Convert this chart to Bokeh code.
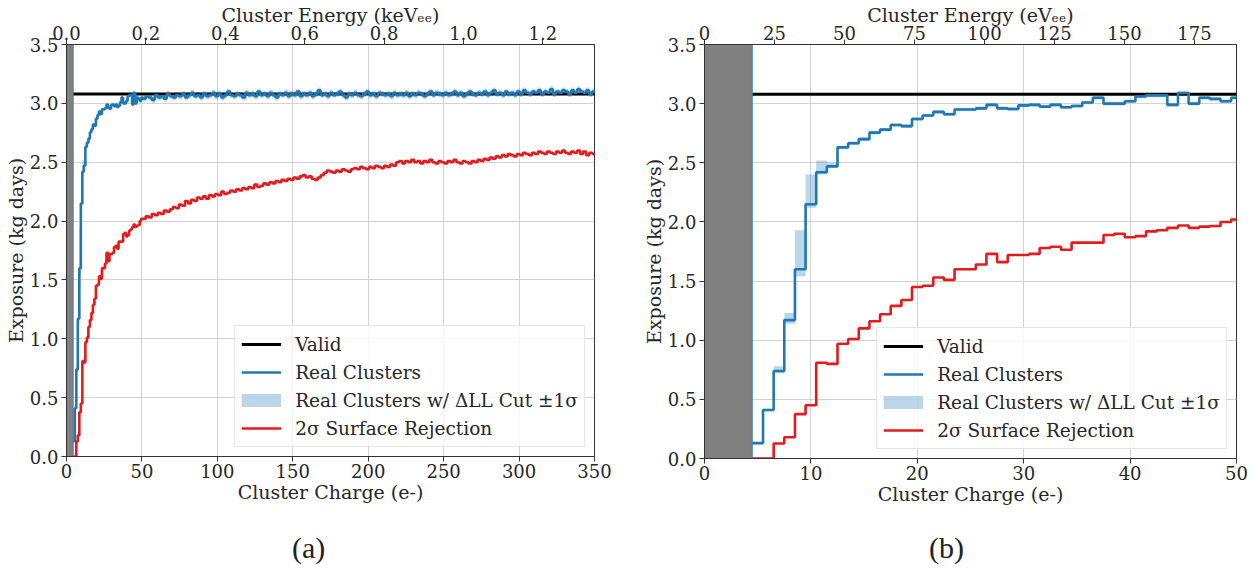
import numpy as np
from bokeh.plotting import figure
from bokeh.models import (Range1d, LinearAxis, FixedTicker, PrintfTickFormatter,
                          Legend, LegendItem, Span, Div)
from bokeh.layouts import row, column
from bokeh.embed import file_html
from bokeh.resources import INLINE

# ---------------- data ----------------
threshold_e = 4.5          # analysis threshold (e-)
ev_per_e = 3.8             # eV per electron
valid_exposure = 3.08      # kg days
fine_start, fine_stop, fine_width = 4.5, 50.5, 1.0
coarse_stop, coarse_width = 350.5, 2.0

# 1 e- bins, 4.5 .. 50.5
blue_fine = [0.13, 0.41, 0.74, 1.17, 1.60, 2.15, 2.42, 2.47, 2.63, 2.665,
             2.70, 2.755, 2.78, 2.82, 2.81, 2.87, 2.90, 2.93, 2.91, 2.95,
             2.95, 2.96, 2.99, 2.96, 2.955, 2.985, 2.99, 2.975, 2.99, 2.97,
             2.98, 3.01, 3.05, 3.00, 3.00, 3.02, 3.06, 3.07, 3.07, 2.99,
             3.09, 3.00, 3.05, 3.04, 3.02, 3.05]
red_fine = [0.0, 0.0, 0.127, 0.18, 0.375, 0.45, 0.81, 0.80, 0.97, 1.01,
            1.10, 1.16, 1.22, 1.29, 1.34, 1.45, 1.46, 1.53, 1.51, 1.60,
            1.60, 1.64, 1.73, 1.66, 1.72, 1.72, 1.73, 1.78, 1.79, 1.765,
            1.825, 1.825, 1.825, 1.89, 1.90, 1.87, 1.88, 1.92, 1.93, 1.95,
            1.97, 1.95, 1.96, 1.966, 2.00, 2.02]
band_lo_fine = [0.12, 0.40, 0.72, 1.14, 1.54, 2.12, 2.40, 2.46, 2.615, 2.65,
                2.685, 2.74, 2.765, 2.805, 2.795, 2.855, 2.885, 2.915, 2.895, 2.935,
                2.935, 2.945, 2.975, 2.945, 2.94, 2.97, 2.975, 2.96, 2.975, 2.955,
                2.965, 2.995, 3.035, 2.985, 2.985, 3.005, 3.045, 3.055, 3.055, 2.975,
                3.075, 2.985, 3.035, 3.025, 3.005, 3.035]
band_hi_fine = [0.14, 0.42, 0.78, 1.23, 1.93, 2.40, 2.52, 2.50, 2.645, 2.68,
                2.715, 2.77, 2.795, 2.835, 2.825, 2.885, 2.915, 2.945, 2.925, 2.965,
                2.965, 2.975, 3.005, 2.975, 2.97, 3.00, 3.005, 2.99, 3.005, 2.985,
                2.995, 3.025, 3.065, 3.015, 3.015, 3.035, 3.075, 3.085, 3.085, 3.005,
                3.105, 3.015, 3.065, 3.055, 3.035, 3.065]

# 2 e- bins, 50.5 .. 350.5
blue_coarse = [3.04, 3.06, 3.05, 3.03, 3.07, 3.05, 3.06, 3.04, 3.08, 3.06,
               3.05, 3.07, 3.06, 3.08, 3.05, 3.07, 3.09, 3.06, 3.07, 3.05,
               3.08, 3.06, 3.07, 3.09, 3.06, 3.08, 3.05, 3.07, 3.10, 3.07,
               3.06, 3.08, 3.07, 3.05, 3.09, 3.07, 3.08, 3.06, 3.10, 3.07,
               3.08, 3.06, 3.09, 3.07, 3.05, 3.08, 3.07, 3.09, 3.06, 3.08,
               3.07, 3.10, 3.06, 3.08, 3.07, 3.09, 3.06, 3.08, 3.11, 3.07,
               3.08, 3.06, 3.09, 3.07, 3.08, 3.10, 3.07, 3.05, 3.08, 3.07,
               3.09, 3.07, 3.06, 3.08, 3.10, 3.07, 3.08, 3.06, 3.09, 3.08,
               3.07, 3.08, 3.06, 3.09, 3.07, 3.08, 3.07, 3.09, 3.06, 3.08,
               3.07, 3.09, 3.08, 3.06, 3.08, 3.10, 3.07, 3.09, 3.08, 3.07,
               3.09, 3.07, 3.08, 3.10, 3.07, 3.09, 3.06, 3.08, 3.10, 3.08,
               3.07, 3.09, 3.08, 3.10, 3.07, 3.09, 3.11, 3.08, 3.09, 3.07,
               3.10, 3.08, 3.09, 3.07, 3.10, 3.08, 3.11, 3.09, 3.08, 3.10,
               3.09, 3.11, 3.08, 3.10, 3.09, 3.12, 3.08, 3.10, 3.09, 3.11,
               3.10, 3.08, 3.11, 3.09, 3.12, 3.10, 3.09, 3.11, 3.08, 3.10]
red_coarse = [2.02, 2.04, 2.03, 2.06, 2.05, 2.07, 2.06, 2.09, 2.08, 2.10,
              2.12, 2.11, 2.14, 2.13, 2.17, 2.15, 2.18, 2.17, 2.20, 2.19,
              2.21, 2.19, 2.22, 2.21, 2.23, 2.22, 2.25, 2.23, 2.24, 2.26,
              2.25, 2.27, 2.26, 2.28, 2.27, 2.29, 2.28, 2.31, 2.29, 2.30,
              2.32, 2.31, 2.33, 2.32, 2.34, 2.33, 2.35, 2.34, 2.36, 2.35,
              2.37, 2.36, 2.38, 2.39, 2.37, 2.38, 2.36, 2.35, 2.37, 2.39,
              2.41, 2.43, 2.42, 2.41, 2.43, 2.42, 2.44, 2.43, 2.42, 2.44,
              2.45, 2.44, 2.46, 2.45, 2.44, 2.46, 2.45, 2.47, 2.46, 2.45,
              2.47, 2.46, 2.48, 2.47, 2.50, 2.51, 2.49, 2.51, 2.50, 2.52,
              2.50, 2.51, 2.49, 2.51, 2.50, 2.52, 2.50, 2.49, 2.51, 2.50,
              2.49, 2.51, 2.50, 2.52, 2.50, 2.49, 2.51, 2.50, 2.49, 2.51,
              2.50, 2.52, 2.51, 2.53, 2.52, 2.54, 2.53, 2.55, 2.54, 2.56,
              2.55, 2.57, 2.56, 2.55, 2.57, 2.56, 2.58, 2.57, 2.56, 2.58,
              2.57, 2.59, 2.58, 2.57, 2.59, 2.58, 2.57, 2.59, 2.58, 2.60,
              2.58, 2.57, 2.59, 2.58, 2.60, 2.57, 2.59, 2.56, 2.58, 2.57]
band_halfwidth_coarse = 0.025

labels = ["Valid", "Real Clusters", "Real Clusters w/ \u0394LL Cut \u00b11\u03c3",
          "2\u03c3 Surface Rejection"]

# ---------------- styling ----------------
FONT = "DejaVu Serif"
BLUE, RED, GRAY = "#1f77b4", "#e41a1c", "#808080"
FIG_H = 520

fine_edges = np.arange(fine_start, fine_stop + 0.01, fine_width)
coarse_edges = np.arange(fine_stop, coarse_stop + 0.01, coarse_width)


def style_axis(ax):
    ax.major_label_text_font = FONT
    ax.major_label_text_font_size = "18px"
    ax.major_label_text_color = "#262626"
    ax.axis_label_text_font = FONT
    ax.axis_label_text_font_size = "19px"
    ax.axis_label_text_font_style = "normal"
    ax.axis_label_text_color = "#262626"
    ax.minor_tick_line_color = None
    ax.major_tick_in = 0
    ax.major_tick_out = 5
    ax.major_label_standoff = 4
    ax.axis_label_standoff = 2
    ax.axis_line_color = "#333333"
    ax.major_tick_line_color = "#333333"


def make_panel(xmax, edges, blue, red, lo, hi, e_factor, e_ticks, e_fmt, e_label,
               x_ticks, bl, br, fw, fh):
    p = figure(frame_width=fw, frame_height=fh, x_range=Range1d(0, xmax), y_range=Range1d(0, 3.5),
               output_backend="svg", toolbar_location=None,
               min_border_left=bl, min_border_right=br, min_border_top=44,
               min_border_bottom=FIG_H - 44 - fh)
    p.extra_x_ranges = {"energy": Range1d(0, xmax * ev_per_e * e_factor)}
    top = LinearAxis(x_range_name="energy", axis_label=e_label,
                     ticker=FixedTicker(ticks=e_ticks), formatter=PrintfTickFormatter(format=e_fmt))
    p.add_layout(top, "above")
    bottom = p.below[0]
    left = p.left[0]
    xt = FixedTicker(ticks=x_ticks)
    yt = FixedTicker(ticks=[0, 0.5, 1, 1.5, 2, 2.5, 3, 3.5])
    bottom.ticker = xt
    left.ticker = yt
    p.xgrid.ticker = xt
    p.ygrid.ticker = yt
    left.formatter = PrintfTickFormatter(format="%.1f")
    bottom.axis_label = "Cluster Charge (e-)"
    left.axis_label = "Exposure (kg days)"
    for ax in (bottom, left, top):
        style_axis(ax)
    bottom.major_label_standoff = 2
    bottom.axis_label_standoff = 0
    left.major_label_standoff = 3
    left.axis_label_standoff = 0
    top.axis_label_standoff = -3
    top.major_label_standoff = 0
    p.grid.grid_line_color = "#d2d2d2"
    p.grid.grid_line_width = 1
    p.outline_line_color = "#333333"
    p.outline_line_alpha = 1

    p.quad(left=[0], right=[threshold_e], bottom=[0], top=[3.5], fill_color=GRAY, line_color=None)
    p.add_layout(Span(location=threshold_e, dimension="height", line_color=BLUE,
                      line_alpha=0.6, line_width=1.2))
    p.quad(left=edges[:-1], right=edges[1:], bottom=lo, top=hi,
           fill_color=BLUE, fill_alpha=0.3, line_color=None)
    r_valid = p.line(x=[threshold_e, xmax], y=[valid_exposure, valid_exposure],
                     line_color="black", line_width=3)
    yb = list(blue) + [blue[-1]]
    yr = list(red) + [red[-1]]
    r_blue = p.step(x=edges, y=yb, mode="after", line_color=BLUE, line_width=2.6)
    r_red = p.step(x=edges, y=yr, mode="after", line_color=RED, line_width=2.6)
    # legend proxy for the band (kept outside the visible range)
    r_band = p.line(x=[-20, -10], y=[-5, -5], line_color=BLUE, line_alpha=0.3, line_width=13)

    legend = Legend(items=[LegendItem(label=labels[0], renderers=[r_valid]),
                           LegendItem(label=labels[1], renderers=[r_blue]),
                           LegendItem(label=labels[2], renderers=[r_band]),
                           LegendItem(label=labels[3], renderers=[r_red])],
                    location="bottom_right", margin=9, padding=6, spacing=4,
                    glyph_width=40, glyph_height=24, label_height=24, label_standoff=14,
                    label_text_font=FONT, label_text_font_size="18.5px",
                    label_text_color="#262626",
                    border_line_color="#cccccc", border_line_width=1,
                    background_fill_color="white", background_fill_alpha=0.8)
    p.add_layout(legend)
    return p


edges_a = np.concatenate([fine_edges, coarse_edges[1:]])
blue_a = blue_fine + blue_coarse
red_a = red_fine + red_coarse
lo_a = band_lo_fine + [v - band_halfwidth_coarse for v in blue_coarse]
hi_a = band_hi_fine + [v + band_halfwidth_coarse for v in blue_coarse]

pa = make_panel(350, edges_a, blue_a, red_a, lo_a, hi_a, 1e-3,
                [0.0, 0.2, 0.4, 0.6, 0.8, 1.0, 1.2], "%.1f", "Cluster Energy (keV\u2091\u2091)",
                [0, 50, 100, 150, 200, 250, 300, 350], 66, 35, 528, 412)
pb = make_panel(50, fine_edges, blue_fine, red_fine, band_lo_fine, band_hi_fine, 1.0,
                [0, 25, 50, 75, 100, 125, 150, 175], "%d", "Cluster Energy (eV\u2091\u2091)",
                [0, 10, 20, 30, 40, 50], 75, 22, 532, 414)

CAP_H = 576 - FIG_H


def caption(text, pad):
    html = (f'<span style="font-family: \'Liberation Serif\', serif; font-size: 30px; '
            f'color: #222222;">{text}</span>')
    return Div(text=html, width=629, height=CAP_H, margin=0,
               styles={"font-family": "Liberation Serif", "font-size": "30px",
                       "padding-left": f"{pad}px", "line-height": f"{CAP_H}px",
                       "box-sizing": "border-box"})


layout = column(row(pa, pb, spacing=0), row(caption("(a)", 292), caption("(b)", 300), spacing=0),
                spacing=0)
open("out.html", "w").write(file_html(layout, INLINE))
